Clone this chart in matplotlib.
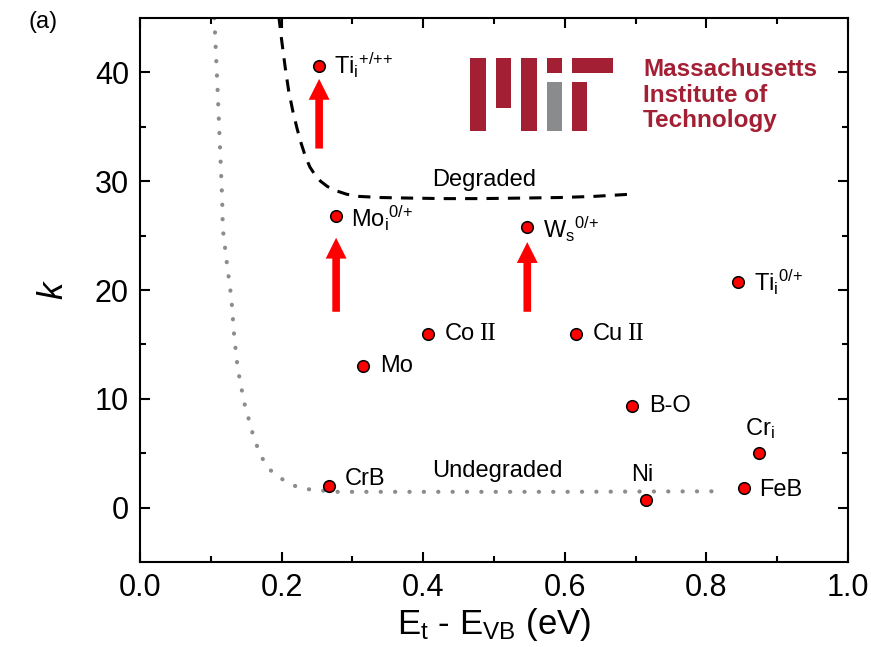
import matplotlib
matplotlib.use("Agg")
import matplotlib.pyplot as plt
from matplotlib.patches import Rectangle

plt.rcParams['font.family'] = ['Liberation Sans', 'DejaVu Sans']
plt.rcParams['mathtext.fontset'] = 'custom'
plt.rcParams['mathtext.rm'] = 'Liberation Sans'
plt.rcParams['mathtext.it'] = 'Liberation Sans:italic'
plt.rcParams['mathtext.bf'] = 'Liberation Sans:bold'

# --- defect levels: trap energy vs capture ratio k ---
names = ['Ti_i+/++', 'Mo_i0/+', 'W_s0/+', 'Ti_i0/+', 'Co II', 'Cu II', 'Mo',
         'B-O', 'Cr_i', 'CrB', 'FeB', 'Ni']
energy = [0.253, 0.277, 0.547, 0.845, 0.407, 0.616, 0.315,
          0.695, 0.874, 0.267, 0.853, 0.715]
k_val = [40.6, 26.8, 25.8, 20.7, 16.0, 16.0, 13.0,
         9.35, 5.0, 2.0, 1.76, 0.74]

# label text and offset (points) for each defect
labels = [r'Ti$_\mathrm{i}$$^\mathrm{{+}/{+}{+}}$', r'Mo$_\mathrm{i}$$^\mathrm{0/{+}}$',
          r'W$_\mathrm{s}$$^\mathrm{0/{+}}$', r'Ti$_\mathrm{i}$$^\mathrm{0/{+}}$',
          'Co', 'Cu', 'Mo', 'B-O', r'Cr$_\mathrm{i}$', 'CrB', 'FeB', 'Ni']
offsets = [(11, 0), (11, -2), (11, -2), (11, 0), (12, 0), (12, 0), (12, 0),
           (12, 0), (-10, 18), (11, 5), (11, -1), (-11, 18)]

# boundary curves
degraded_x = [0.196, 0.200, 0.205, 0.210, 0.216, 0.222, 0.228, 0.234, 0.240,
              0.247, 0.255, 0.265, 0.278, 0.292, 0.310, 0.340, 0.380, 0.430,
              0.480, 0.540, 0.593, 0.640, 0.692]
degraded_k = [45.2, 43.0, 40.5, 38.3, 36.4, 34.8, 33.4, 32.2, 31.3,
              30.6, 30.0, 29.5, 29.1, 28.8, 28.6, 28.5, 28.45, 28.4,
              28.4, 28.45, 28.5, 28.6, 28.8]
undegraded_x = [0.105, 0.110, 0.113, 0.116, 0.117, 0.123, 0.129, 0.133, 0.138,
                0.147, 0.160, 0.169, 0.179, 0.188, 0.196, 0.209, 0.222, 0.236,
                0.251, 0.278, 0.40, 0.60, 0.819]
undegraded_k = [45.0, 37.8, 33.1, 28.5, 25.6, 22.3, 19.3, 15.8, 12.8,
                9.7, 6.6, 5.0, 3.8, 3.2, 2.8, 2.3, 1.9, 1.7,
                1.6, 1.45, 1.45, 1.45, 1.5]

# red arrows: (x, k_start, k_end)
arrow_x = [0.253, 0.277, 0.547]
arrow_from = [33.0, 18.0, 18.0]
arrow_to = [39.4, 24.8, 24.4]

fig = plt.figure(figsize=(8.71, 6.47), dpi=100)
ax = fig.add_axes([140/871, 1-562/647, 708/871, 544/647])

ax.plot(undegraded_x, undegraded_k, ls=(0, (0.05, 3.4)), lw=3.0, color='#8c8c8c',
        dash_capstyle='round')
ax.plot(degraded_x, degraded_k, ls=(0, (4, 3)), lw=2.2, color='black')

for x, y0, y1 in zip(arrow_x, arrow_from, arrow_to):
    ax.annotate('', xy=(x, y1), xytext=(x, y0),
                arrowprops=dict(arrowstyle='simple,head_length=1.5,head_width=1.5,tail_width=0.55',
                                color='#ff0000', lw=0, shrinkA=0, shrinkB=0))

ax.scatter(energy, k_val, s=70, color='#ff0000', edgecolor='black', lw=1.1, zorder=5)

for x, y, lab, off in zip(energy, k_val, labels, offsets):
    ax.annotate(lab, (x, y), xytext=off, textcoords='offset points',
                fontsize=17, ha='left', va='center')
    if lab in ('Co', 'Cu'):
        ax.annotate('II', (x, y), xytext=(off[0] + 25, off[1]), textcoords='offset points',
                    fontsize=18, va='center', family='Liberation Serif')

ax.text(0.413, 30.1, 'Degraded', fontsize=17, va='center')
ax.text(0.413, 3.4, 'Undegraded', fontsize=17, va='center')

ax.set_xlim(0, 1.0)
ax.set_ylim(-5, 45)
ax.set_xticks([0, 0.2, 0.4, 0.6, 0.8, 1.0])
ax.set_xticks([0.1, 0.3, 0.5, 0.7, 0.9], minor=True)
ax.set_yticks([0, 10, 20, 30, 40])
ax.set_yticks([5, 15, 25, 35], minor=True)
ax.tick_params(which='both', direction='in', top=True, right=True, labelsize=22, width=1.5)
ax.tick_params(which='major', length=7, pad=8)
ax.tick_params(which='minor', length=4)
for sp in ax.spines.values():
    sp.set_linewidth(1.5)
ax.set_xlabel(r'E$_\mathrm{t}$ - E$_\mathrm{VB}$ (eV)', fontsize=25, labelpad=2)
ax.set_ylabel(r'$k$', fontsize=25, labelpad=18)

fig.text(28/871, 1-22/647, '(a)', fontsize=17, va='center')

# institute logo
mit_red = '#a31f34'
logo = fig.add_axes([470/871, 1-131/647, 143/871, 73/647])
logo.set_xlim(0, 143)
logo.set_ylim(73, 0)
logo.axis('off')
bar_x = [0, 26, 51, 77, 77, 102, 102]
bar_y = [0, 0, 0, 0, 24, 0, 24]
bar_w = [16, 15, 16, 15, 15, 41, 15]
bar_h = [73, 50, 73, 15, 49, 15, 49]
bar_c = [mit_red, mit_red, mit_red, mit_red, '#8a8b8c', mit_red, mit_red]
for bx, by, bw, bh, bc in zip(bar_x, bar_y, bar_w, bar_h, bar_c):
    logo.add_patch(Rectangle((bx, by), bw, bh, color=bc, lw=0))

fig.text(643/871, 1-95/647, 'Massachusetts\nInstitute of\nTechnology', fontsize=17.5,
         fontweight='bold', color=mit_red, va='center', linespacing=1.12)

fig.savefig('out.png', dpi=100)
